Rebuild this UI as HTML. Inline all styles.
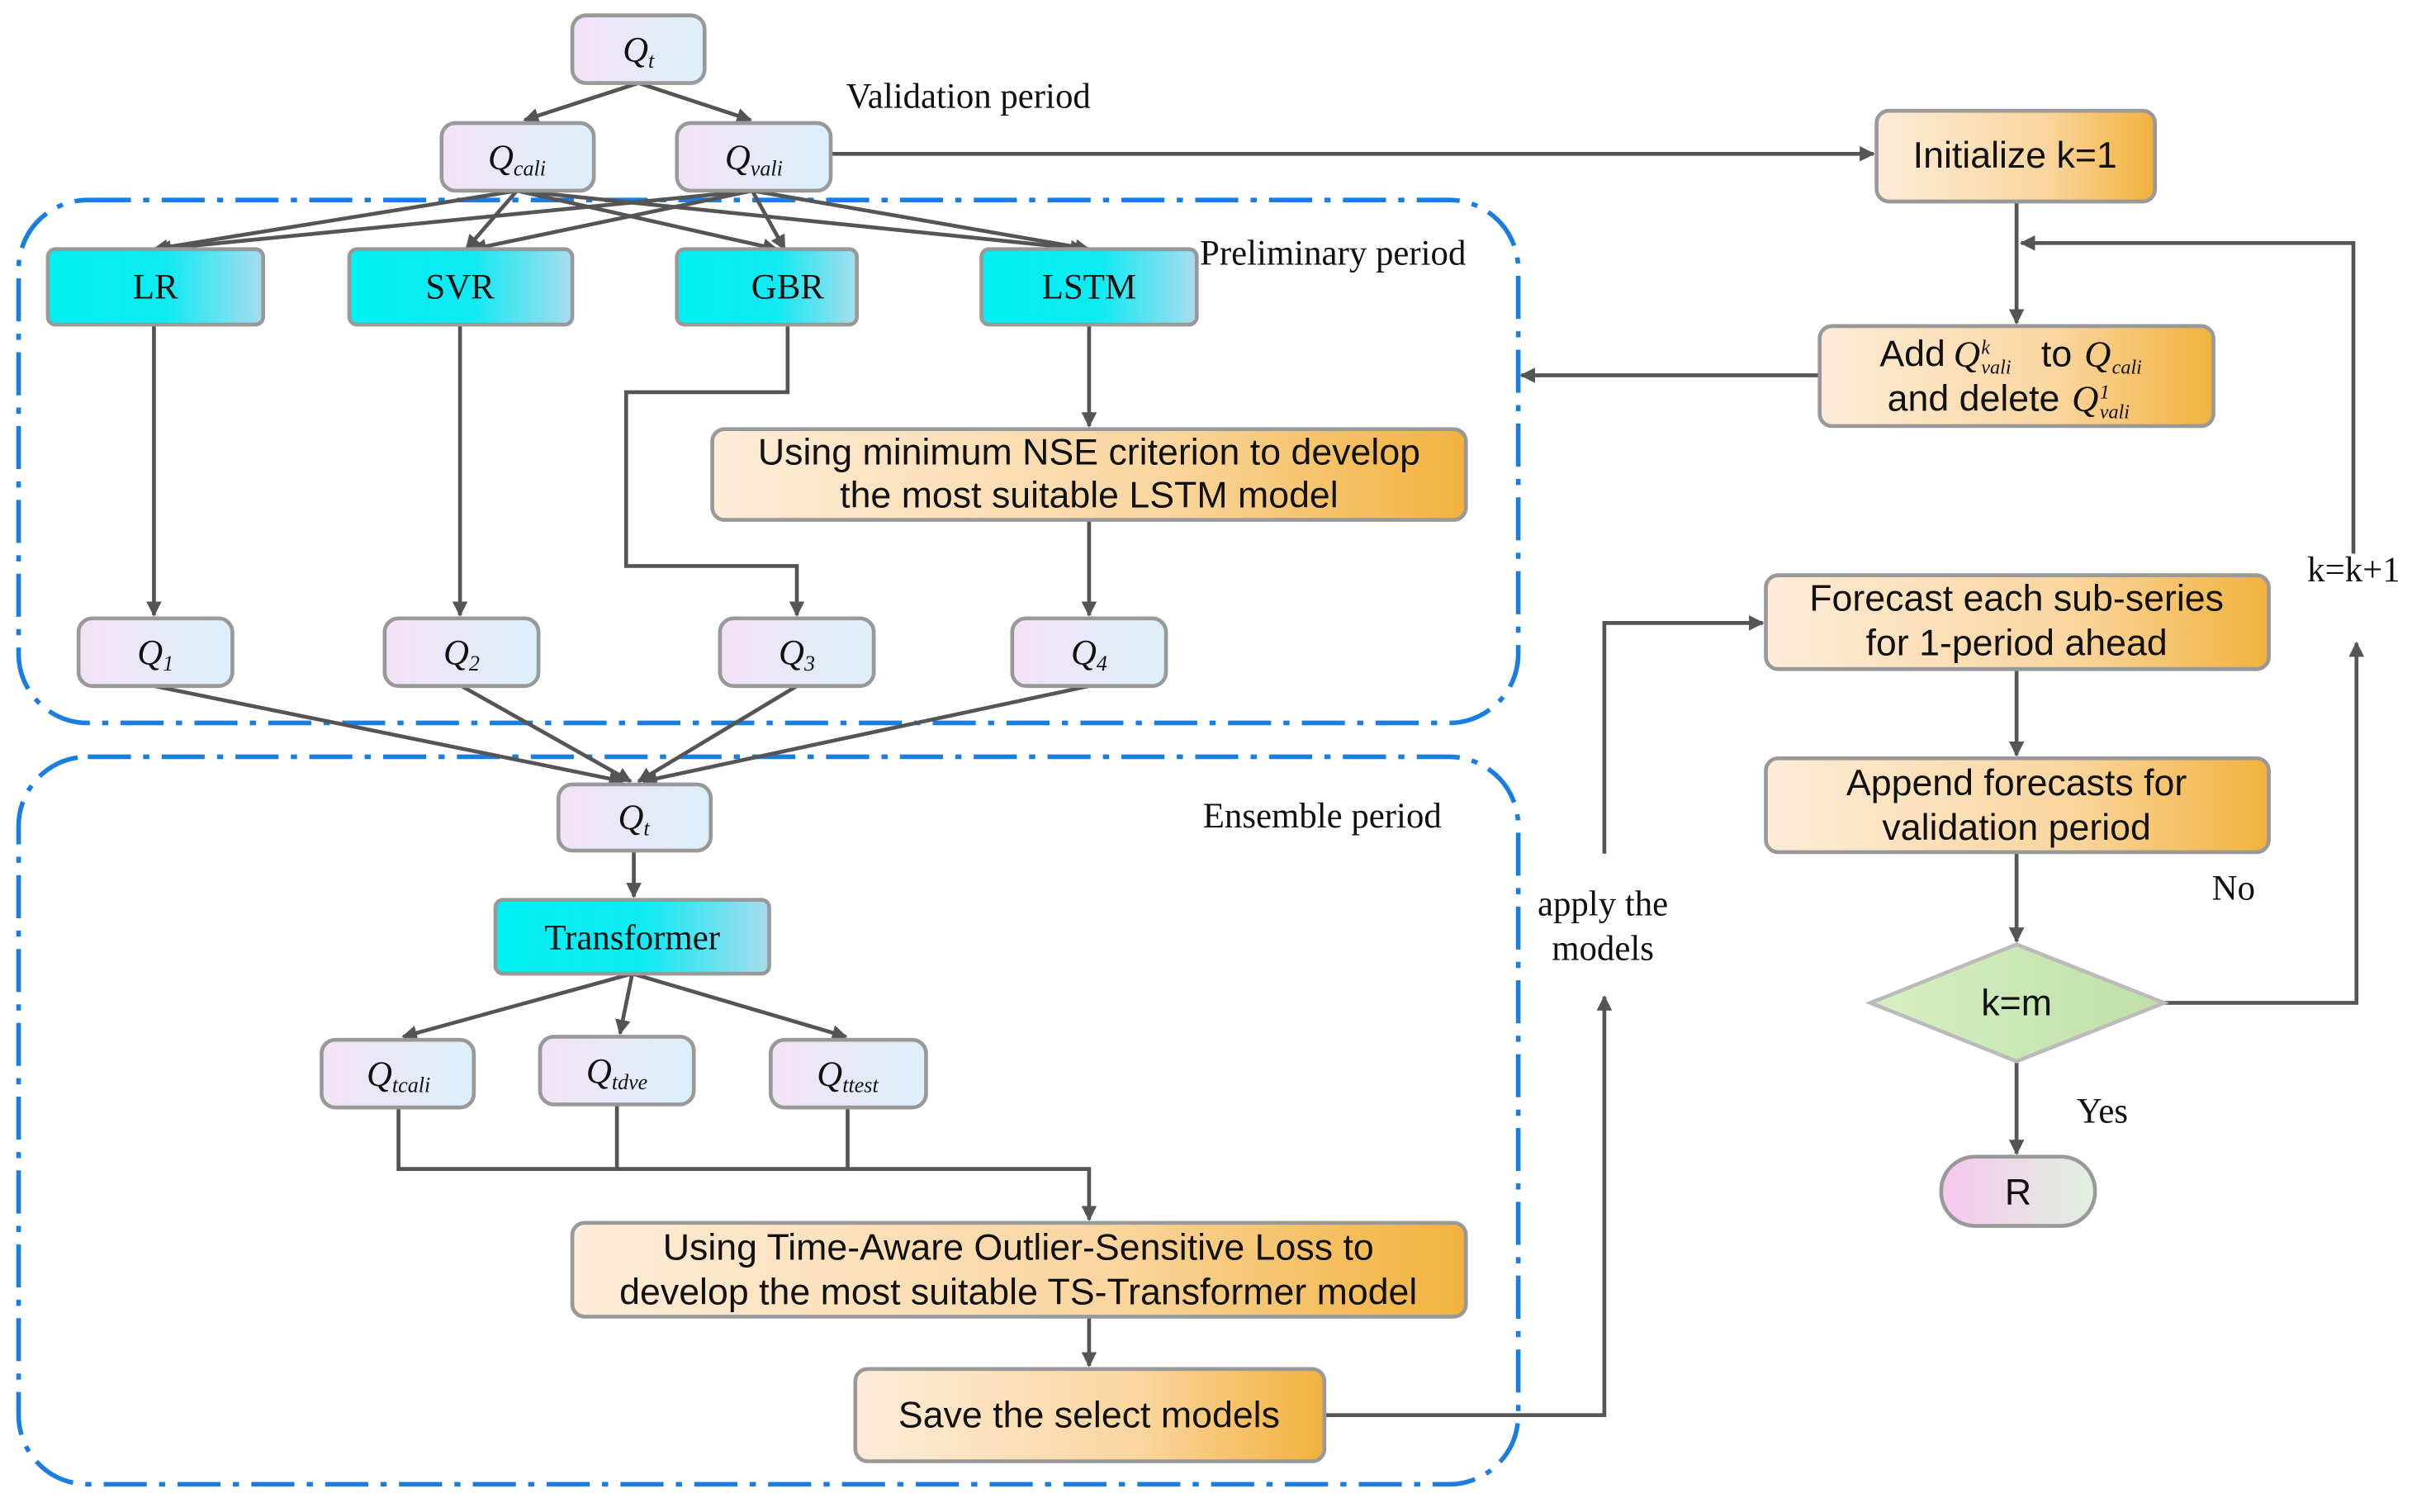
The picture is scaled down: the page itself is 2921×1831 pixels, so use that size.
<!DOCTYPE html>
<html><head><meta charset="utf-8"><style>html,body{margin:0;padding:0;background:#fff}svg{display:block}</style></head><body>
<svg width="2921" height="1831" viewBox="0 0 1568 983" xmlns="http://www.w3.org/2000/svg" font-family="Liberation Serif, serif">
<defs>
<linearGradient id="q" x1="0" x2="1"><stop offset="0" stop-color="#f3e2f6"/><stop offset="1" stop-color="#dcf0fa"/></linearGradient>
<linearGradient id="c" x1="0" x2="1"><stop offset="0" stop-color="#00f0f4"/><stop offset="0.55" stop-color="#10eaf2"/><stop offset="1" stop-color="#a8dcee"/></linearGradient>
<linearGradient id="o" x1="0" x2="1"><stop offset="0" stop-color="#fdecd8"/><stop offset="0.6" stop-color="#fad6a0"/><stop offset="1" stop-color="#f2b23c"/></linearGradient>
<linearGradient id="g" x1="0" x2="1"><stop offset="0" stop-color="#d6efc4"/><stop offset="1" stop-color="#bfe0a8"/></linearGradient>
<linearGradient id="p" x1="0" x2="1"><stop offset="0" stop-color="#f6c8ee"/><stop offset="1" stop-color="#e0f0e0"/></linearGradient>
<marker id="a" markerWidth="10" markerHeight="10" refX="9" refY="5" orient="auto" markerUnits="userSpaceOnUse"><path d="M0,0 L10,5 L0,10 Z" fill="#555"/></marker>
</defs>
<g fill="none" stroke="#1a7ee0" stroke-width="3" stroke-dasharray="28,8,4,8">
<rect x="12" y="130" width="975" height="340" rx="45"/>
<rect x="12" y="492" width="975" height="473" rx="45"/>
</g>
<g stroke="#555" stroke-width="2.5" fill="none" marker-end="url(#a)">
<path d="M415,54 L341,78"/><path d="M415,54 L488,78"/>
<path d="M336,124 L100,162"/><path d="M336,124 L303,162"/><path d="M336,124 L505,162"/><path d="M336,124 L705,162"/>
<path d="M489,124 L102,162"/><path d="M489,124 L307,162"/><path d="M489,124 L510,162"/><path d="M489,124 L708,162"/>
<path d="M100,211 L100,400"/><path d="M299,211 L299,400"/>
<path d="M512,211 L512,255 L407,255 L407,368 L518,368 L518,400"/>
<path d="M708,211 L708,277"/><path d="M708,338 L708,400"/>
<path d="M100,446 L405,508"/><path d="M300,446 L410,508"/><path d="M518,446 L415,508"/><path d="M708,446 L418,508"/>
<path d="M412,553 L412,583"/>
<path d="M411,633 L262,674"/><path d="M411,633 L403,672"/><path d="M411,633 L550,674"/>
<path d="M259,720 L259,760 L708,760 L708,793" /><path d="M401,718 L401,760" marker-end="none"/><path d="M551,720 L551,760" marker-end="none"/>
<path d="M708,856 L708,888"/>
<path d="M540,100 L1218,100"/>
<path d="M1311,131 L1311,210"/>
<path d="M1183,244 L989,244"/>
<path d="M1530,360 L1530,158 L1314,158"/>
<path d="M861,920 L1043,920 L1043,648"/>
<path d="M1043,555 L1043,405 L1146,405"/>
<path d="M1311,435 L1311,491"/>
<path d="M1311,554 L1311,612"/>
<path d="M1407,652 L1532,652 L1532,418"/>
<path d="M1311,690 L1311,750"/>
</g>
<g stroke="#999" stroke-width="2.5">
<rect x="372" y="10" width="86" height="44" rx="9" fill="url(#q)"/>
<rect x="287" y="80" width="99" height="44" rx="9" fill="url(#q)"/>
<rect x="440" y="80" width="100" height="44" rx="9" fill="url(#q)"/>
<rect x="31" y="162" width="140" height="49" rx="5" fill="url(#c)"/>
<rect x="227" y="162" width="145" height="49" rx="5" fill="url(#c)"/>
<rect x="440" y="162" width="117" height="49" rx="5" fill="url(#c)"/>
<rect x="638" y="162" width="140" height="49" rx="5" fill="url(#c)"/>
<rect x="463" y="279" width="490" height="59" rx="8" fill="url(#o)"/>
<rect x="51" y="402" width="100" height="44" rx="9" fill="url(#q)"/>
<rect x="250" y="402" width="100" height="44" rx="9" fill="url(#q)"/>
<rect x="468" y="402" width="100" height="44" rx="9" fill="url(#q)"/>
<rect x="658" y="402" width="100" height="44" rx="9" fill="url(#q)"/>
<rect x="363" y="510" width="99" height="43" rx="9" fill="url(#q)"/>
<rect x="322" y="585" width="178" height="48" rx="5" fill="url(#c)"/>
<rect x="209" y="676" width="99" height="44" rx="9" fill="url(#q)"/>
<rect x="351" y="674" width="100" height="44" rx="9" fill="url(#q)"/>
<rect x="501" y="676" width="101" height="44" rx="9" fill="url(#q)"/>
<rect x="372" y="795" width="581" height="61" rx="8" fill="url(#o)"/>
<rect x="556" y="890" width="305" height="60" rx="8" fill="url(#o)"/>
<rect x="1220" y="72" width="181" height="59" rx="8" fill="url(#o)"/>
<rect x="1183" y="212" width="256" height="65" rx="8" fill="url(#o)"/>
<rect x="1148" y="374" width="327" height="61" rx="8" fill="url(#o)"/>
<rect x="1148" y="493" width="327" height="61" rx="8" fill="url(#o)"/>
<path d="M1216,652 L1311,614 L1407,652 L1311,690 Z" fill="url(#g)" stroke="#bbb"/>
<rect x="1262" y="752" width="100" height="45" rx="22" fill="url(#p)"/>
</g>
<g font-size="23" fill="#111" text-anchor="middle" font-style="italic">
<text x="415" y="40">Q<tspan font-size="14" dy="4">t</tspan></text>
<text x="336" y="110">Q<tspan font-size="14" dy="4">cali</tspan></text>
<text x="490" y="110">Q<tspan font-size="14" dy="4">vali</tspan></text>
<text x="101" y="432">Q<tspan font-size="14" dy="4">1</tspan></text>
<text x="300" y="432">Q<tspan font-size="14" dy="4">2</tspan></text>
<text x="518" y="432">Q<tspan font-size="14" dy="4">3</tspan></text>
<text x="708" y="432">Q<tspan font-size="14" dy="4">4</tspan></text>
<text x="412" y="539">Q<tspan font-size="14" dy="4">t</tspan></text>
<text x="259" y="706">Q<tspan font-size="14" dy="4">tcali</tspan></text>
<text x="401" y="704">Q<tspan font-size="14" dy="4">tdve</tspan></text>
<text x="551" y="706">Q<tspan font-size="14" dy="4">ttest</tspan></text>
</g>
<g font-size="23" fill="#111" text-anchor="middle">
<text x="101" y="194">LR</text><text x="299" y="194">SVR</text><text x="512" y="194">GBR</text><text x="708" y="194">LSTM</text>
<text x="411" y="617">Transformer</text>
</g>
<g font-size="23" fill="#111">
<text x="550" y="70">Validation period</text>
<text x="780" y="172">Preliminary period</text>
<text x="782" y="538">Ensemble period</text>
<text x="1042" y="595" text-anchor="middle">apply the</text>
<text x="1042" y="624" text-anchor="middle">models</text>
<text x="1500" y="378">k=k+1</text>
<text x="1438" y="585">No</text>
<text x="1350" y="730">Yes</text>
</g>
<g font-family="Liberation Sans, sans-serif" font-size="24" fill="#111" text-anchor="middle">
<text x="708" y="302">Using minimum NSE criterion to develop</text>
<text x="708" y="330">the most suitable LSTM model</text>
<text x="662" y="819">Using Time-Aware Outlier-Sensitive Loss to</text>
<text x="662" y="848">develop the most suitable TS-Transformer model</text>
<text x="708" y="928">Save the select models</text>
<text x="1310" y="109">Initialize k=1</text>
<text x="1311" y="397">Forecast each sub-series</text>
<text x="1311" y="426">for 1-period ahead</text>
<text x="1311" y="517">Append forecasts for</text>
<text x="1311" y="546">validation period</text>
<text x="1311" y="660">k=m</text>
<text x="1312" y="783">R</text>
</g>
<g font-size="24" fill="#111">
<text x="1222" y="238" font-family="Liberation Sans, sans-serif">Add</text>
<text x="1270" y="238" font-style="italic">Q</text>
<text x="1288" y="230" font-size="13" font-style="italic">k</text>
<text x="1288" y="243" font-size="13" font-style="italic">vali</text>
<text x="1327" y="238" font-family="Liberation Sans, sans-serif">to</text>
<text x="1355" y="238" font-style="italic">Q</text>
<text x="1373" y="243" font-size="13" font-style="italic">cali</text>
<text x="1227" y="267" font-family="Liberation Sans, sans-serif">and delete</text>
<text x="1347" y="267" font-style="italic">Q</text>
<text x="1365" y="259" font-size="13" font-style="italic">1</text>
<text x="1365" y="272" font-size="13" font-style="italic">vali</text>
</g>
</svg>
</body></html>
